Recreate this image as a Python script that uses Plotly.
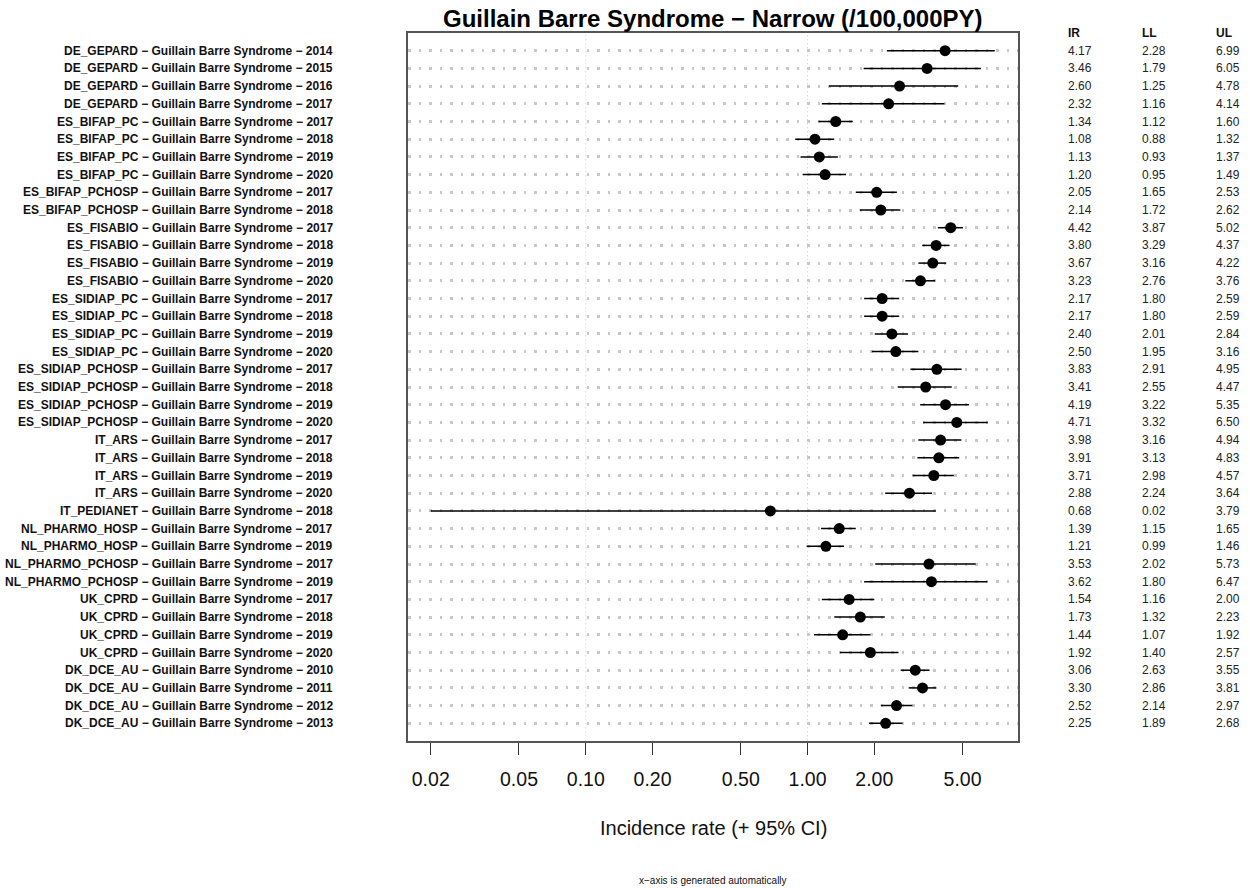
import plotly.graph_objects as go

# ---------------- data ----------------
databases = ["DE_GEPARD"] * 4 + ["ES_BIFAP_PC"] * 4 + ["ES_BIFAP_PCHOSP"] * 2 + \
    ["ES_FISABIO"] * 4 + ["ES_SIDIAP_PC"] * 4 + ["ES_SIDIAP_PCHOSP"] * 4 + \
    ["IT_ARS"] * 4 + ["IT_PEDIANET"] + ["NL_PHARMO_HOSP"] * 2 + \
    ["NL_PHARMO_PCHOSP"] * 2 + ["UK_CPRD"] * 4 + ["DK_DCE_AU"] * 4
years = [2014, 2015, 2016, 2017,
         2017, 2018, 2019, 2020,
         2017, 2018,
         2017, 2018, 2019, 2020,
         2017, 2018, 2019, 2020,
         2017, 2018, 2019, 2020,
         2017, 2018, 2019, 2020,
         2018,
         2017, 2019,
         2017, 2019,
         2017, 2018, 2019, 2020,
         2010, 2011, 2012, 2013]
outcome = "Guillain Barre Syndrome"

ir = [4.17, 3.46, 2.60, 2.32,
      1.34, 1.08, 1.13, 1.20,
      2.05, 2.14,
      4.42, 3.80, 3.67, 3.23,
      2.17, 2.17, 2.40, 2.50,
      3.83, 3.41, 4.19, 4.71,
      3.98, 3.91, 3.71, 2.88,
      0.68,
      1.39, 1.21,
      3.53, 3.62,
      1.54, 1.73, 1.44, 1.92,
      3.06, 3.30, 2.52, 2.25]
ll = [2.28, 1.79, 1.25, 1.16,
      1.12, 0.88, 0.93, 0.95,
      1.65, 1.72,
      3.87, 3.29, 3.16, 2.76,
      1.80, 1.80, 2.01, 1.95,
      2.91, 2.55, 3.22, 3.32,
      3.16, 3.13, 2.98, 2.24,
      0.02,
      1.15, 0.99,
      2.02, 1.80,
      1.16, 1.32, 1.07, 1.40,
      2.63, 2.86, 2.14, 1.89]
ul = [6.99, 6.05, 4.78, 4.14,
      1.60, 1.32, 1.37, 1.49,
      2.53, 2.62,
      5.02, 4.37, 4.22, 3.76,
      2.59, 2.59, 2.84, 3.16,
      4.95, 4.47, 5.35, 6.50,
      4.94, 4.83, 4.57, 3.64,
      3.79,
      1.65, 1.46,
      5.73, 6.47,
      2.00, 2.23, 1.92, 2.57,
      3.55, 3.81, 2.97, 2.68]

tick_vals = [0.02, 0.05, 0.10, 0.20, 0.50, 1.00, 2.00, 5.00]
tick_text = ["0.02", "0.05", "0.10", "0.20", "0.50", "1.00", "2.00", "5.00"]
ref_lines = [0.1, 1.0]
table_headers = ["IR", "LL", "UL"]

title_text = "Guillain Barre Syndrome \u2212 Narrow (/100,000PY)"
xaxis_title = "Incidence rate (+ 95% CI)"
footer_text = "x\u2212axis is generated automatically"

# ---------------- figure ----------------
W, H = 1250, 888
L, R, T, B = 408, 1018, 33, 741
FONT = "Liberation Sans, Arial, Helvetica, sans-serif"

n = len(ir)
rows = list(range(1, n + 1))
labels = [f"{d} \u2212 {outcome} \u2212 {y}" for d, y in zip(databases, years)]

fig = go.Figure()

# reference vertical dotted lines
vx, vy = [], []
for v in ref_lines:
    vx += [v, v, None]
    vy += [-1, n + 2, None]
fig.add_trace(go.Scatter(x=vx, y=vy, mode="lines",
                         line=dict(color="#c8c8c8", width=1, dash="1px,3px"),
                         hoverinfo="skip", showlegend=False))

# CI lines
cx, cy = [], []
for r, lo, hi in zip(rows, ll, ul):
    cx += [lo, hi, None]
    cy += [r, r, None]
fig.add_trace(go.Scatter(x=cx, y=cy, mode="lines",
                         line=dict(color="black", width=1.5),
                         hoverinfo="skip", showlegend=False))

# point estimates
fig.add_trace(go.Scatter(x=ir, y=rows, mode="markers",
                         marker=dict(color="black", size=11, symbol="circle"),
                         showlegend=False))

annotations = []
# row labels (bold)
for r, lab in zip(rows, labels):
    annotations.append(dict(text=f"<b>{lab}</b>", x=(335 - L) / (R - L), y=r,
                            xref="paper", yref="y",
                            xanchor="right", yanchor="middle", showarrow=False,
                            font=dict(family=FONT, size=12, color="#111")))
# table
col_x = [1066, 1140, 1214]
for cx_pix, hdr, vals in zip(col_x, table_headers, [ir, ll, ul]):
    xp = (cx_pix - L) / (R - L)
    annotations.append(dict(text=f"<b>{hdr}</b>", x=xp, y=0, xref="paper", yref="y",
                            xanchor="left", yanchor="middle", showarrow=False,
                            font=dict(family=FONT, size=12, color="#111")))
    for r, v in zip(rows, vals):
        annotations.append(dict(text=f"{v:.2f}", x=xp, y=r, xref="paper", yref="y",
                                xanchor="left", yanchor="middle", showarrow=False,
                                font=dict(family=FONT, size=12, color="#222")))

# title, axis title, footer
def py(pix):
    return (B - pix) / (B - T)

annotations.append(dict(text=f"<b>{title_text}</b>", x=0.5, y=py(18), xref="paper", yref="paper",
                        xanchor="center", yanchor="middle", showarrow=False,
                        font=dict(family=FONT, size=24, color="black")))
annotations.append(dict(text=xaxis_title, x=0.5, y=py(828), xref="paper", yref="paper",
                        xanchor="center", yanchor="middle", showarrow=False,
                        font=dict(family=FONT, size=20, color="#111")))
annotations.append(dict(text=footer_text, x=0.5, y=py(880), xref="paper", yref="paper",
                        xanchor="center", yanchor="middle", showarrow=False,
                        font=dict(family=FONT, size=10, color="#111")))

fig.update_layout(
    width=W, height=H,
    margin=dict(l=L, r=W - R, t=T, b=H - B, pad=0),
    paper_bgcolor="white", plot_bgcolor="white",
    showlegend=False,
    annotations=annotations,
    font=dict(family=FONT),
)
fig.update_xaxes(
    type="log", range=[-1.8015, 0.949],
    tickvals=tick_vals, ticktext=tick_text,
    ticks="outside", ticklen=12, tickwidth=1, tickcolor="#333",
    tickfont=dict(family=FONT, size=19.5, color="#111"),
    ticklabelstandoff=8,
    showgrid=False, zeroline=False,
    showline=True, mirror=True, linecolor="#555", linewidth=1.5,
)
fig.update_yaxes(
    range=[n + 1, 0],
    tickvals=rows, showticklabels=False, ticks="",
    showgrid=True, gridcolor="#c8c8c8", gridwidth=2.5, griddash="2.5px,8px",
    zeroline=False,
    showline=True, mirror=True, linecolor="#555", linewidth=1.5,
)

fig.write_html("out.html")
